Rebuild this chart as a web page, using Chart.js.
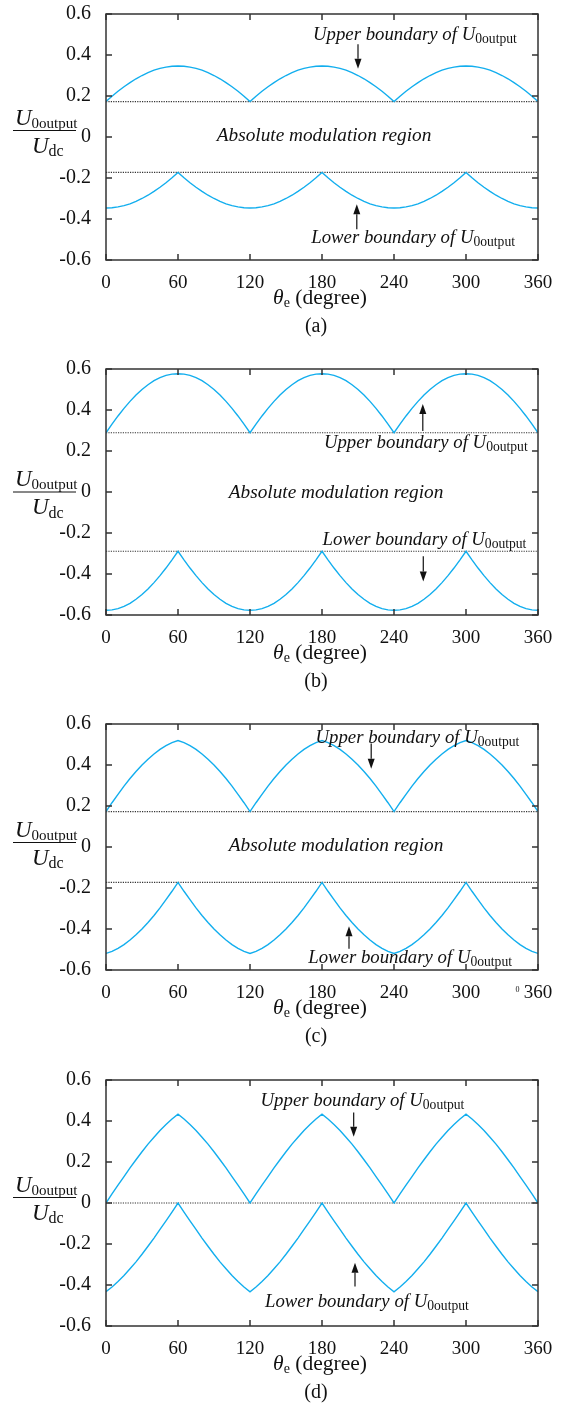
<!DOCTYPE html>
<html>
<head>
<meta charset="utf-8">
<script src="https://cdn.jsdelivr.net/npm/chart.js@4.4.1/dist/chart.umd.min.js"></script>
<style>
  html, body { margin: 0; padding: 0; background: #fff; }
  body { width: 565px; height: 1403px; position: relative; overflow: hidden; }
  canvas { position: absolute; left: 0; }
</style>
</head>
<body>
<canvas id="panel-a" width="565" height="345" style="top:-5px"></canvas>
<canvas id="panel-b" width="565" height="345" style="top:350px"></canvas>
<canvas id="panel-c" width="565" height="345" style="top:705px"></canvas>
<canvas id="panel-d" width="565" height="345" style="top:1061px"></canvas>
<script>
// electrical angle, degrees
var thetaDeg = [0, 5, 10, 15, 20, 25, 30, 35, 40, 45, 50, 55, 60, 65, 70, 75, 80, 85, 90, 95, 100, 105, 110, 115, 120,
  125, 130, 135, 140, 145, 150, 155, 160, 165, 170, 175, 180, 185, 190, 195, 200, 205, 210, 215, 220, 225, 230, 235, 240,
  245, 250, 255, 260, 265, 270, 275, 280, 285, 290, 295, 300, 305, 310, 315, 320, 325, 330, 335, 340, 345, 350, 355, 360];

// U0output / Udc limits, one pair per case (one line per 120 degrees)
var upperA = [0.173, 0.199, 0.223, 0.245, 0.265, 0.284, 0.300, 0.314, 0.326, 0.335, 0.341, 0.345, 0.346, 0.345, 0.341, 0.335, 0.326, 0.314, 0.300, 0.284, 0.265, 0.245, 0.223, 0.199, 0.173,
  0.199, 0.223, 0.245, 0.265, 0.284, 0.300, 0.314, 0.326, 0.335, 0.341, 0.345, 0.346, 0.345, 0.341, 0.335, 0.326, 0.314, 0.300, 0.284, 0.265, 0.245, 0.223, 0.199, 0.173,
  0.199, 0.223, 0.245, 0.265, 0.284, 0.300, 0.314, 0.326, 0.335, 0.341, 0.345, 0.346, 0.345, 0.341, 0.335, 0.326, 0.314, 0.300, 0.284, 0.265, 0.245, 0.223, 0.199, 0.173];
var lowerA = [-0.346, -0.345, -0.341, -0.335, -0.326, -0.314, -0.300, -0.284, -0.265, -0.245, -0.223, -0.199, -0.173, -0.199, -0.223, -0.245, -0.265, -0.284, -0.300, -0.314, -0.326, -0.335, -0.341, -0.345, -0.346,
  -0.345, -0.341, -0.335, -0.326, -0.314, -0.300, -0.284, -0.265, -0.245, -0.223, -0.199, -0.173, -0.199, -0.223, -0.245, -0.265, -0.284, -0.300, -0.314, -0.326, -0.335, -0.341, -0.345, -0.346,
  -0.345, -0.341, -0.335, -0.326, -0.314, -0.300, -0.284, -0.265, -0.245, -0.223, -0.199, -0.173, -0.199, -0.223, -0.245, -0.265, -0.284, -0.300, -0.314, -0.326, -0.335, -0.341, -0.345, -0.346];

var upperB = [0.289, 0.331, 0.371, 0.408, 0.442, 0.473, 0.500, 0.523, 0.543, 0.558, 0.569, 0.575, 0.577, 0.575, 0.569, 0.558, 0.543, 0.523, 0.500, 0.473, 0.442, 0.408, 0.371, 0.331, 0.289,
  0.331, 0.371, 0.408, 0.442, 0.473, 0.500, 0.523, 0.543, 0.558, 0.569, 0.575, 0.577, 0.575, 0.569, 0.558, 0.543, 0.523, 0.500, 0.473, 0.442, 0.408, 0.371, 0.331, 0.289,
  0.331, 0.371, 0.408, 0.442, 0.473, 0.500, 0.523, 0.543, 0.558, 0.569, 0.575, 0.577, 0.575, 0.569, 0.558, 0.543, 0.523, 0.500, 0.473, 0.442, 0.408, 0.371, 0.331, 0.289];
var lowerB = [-0.577, -0.575, -0.569, -0.558, -0.543, -0.523, -0.500, -0.473, -0.442, -0.408, -0.371, -0.331, -0.289, -0.331, -0.371, -0.408, -0.442, -0.473, -0.500, -0.523, -0.543, -0.558, -0.569, -0.575, -0.577,
  -0.575, -0.569, -0.558, -0.543, -0.523, -0.500, -0.473, -0.442, -0.408, -0.371, -0.331, -0.289, -0.331, -0.371, -0.408, -0.442, -0.473, -0.500, -0.523, -0.543, -0.558, -0.569, -0.575, -0.577,
  -0.575, -0.569, -0.558, -0.543, -0.523, -0.500, -0.473, -0.442, -0.408, -0.371, -0.331, -0.289, -0.331, -0.371, -0.408, -0.442, -0.473, -0.500, -0.523, -0.543, -0.558, -0.569, -0.575, -0.577];

var upperC = [0.173, 0.216, 0.257, 0.297, 0.334, 0.368, 0.400, 0.428, 0.454, 0.476, 0.494, 0.509, 0.519, 0.509, 0.494, 0.476, 0.454, 0.428, 0.400, 0.368, 0.334, 0.297, 0.257, 0.216, 0.173,
  0.216, 0.257, 0.297, 0.334, 0.368, 0.400, 0.428, 0.454, 0.476, 0.494, 0.509, 0.519, 0.509, 0.494, 0.476, 0.454, 0.428, 0.400, 0.368, 0.334, 0.297, 0.257, 0.216, 0.173,
  0.216, 0.257, 0.297, 0.334, 0.368, 0.400, 0.428, 0.454, 0.476, 0.494, 0.509, 0.519, 0.509, 0.494, 0.476, 0.454, 0.428, 0.400, 0.368, 0.334, 0.297, 0.257, 0.216, 0.173];
var lowerC = [-0.519, -0.509, -0.494, -0.476, -0.454, -0.428, -0.400, -0.368, -0.334, -0.297, -0.257, -0.216, -0.173, -0.216, -0.257, -0.297, -0.334, -0.368, -0.400, -0.428, -0.454, -0.476, -0.494, -0.509, -0.519,
  -0.509, -0.494, -0.476, -0.454, -0.428, -0.400, -0.368, -0.334, -0.297, -0.257, -0.216, -0.173, -0.216, -0.257, -0.297, -0.334, -0.368, -0.400, -0.428, -0.454, -0.476, -0.494, -0.509, -0.519,
  -0.509, -0.494, -0.476, -0.454, -0.428, -0.400, -0.368, -0.334, -0.297, -0.257, -0.216, -0.173, -0.216, -0.257, -0.297, -0.334, -0.368, -0.400, -0.428, -0.454, -0.476, -0.494, -0.509, -0.519];

var upperD = [0, 0.044, 0.087, 0.129, 0.171, 0.211, 0.250, 0.287, 0.321, 0.354, 0.383, 0.410, 0.433, 0.410, 0.383, 0.354, 0.321, 0.287, 0.250, 0.211, 0.171, 0.129, 0.087, 0.044, 0,
  0.044, 0.087, 0.129, 0.171, 0.211, 0.250, 0.287, 0.321, 0.354, 0.383, 0.410, 0.433, 0.410, 0.383, 0.354, 0.321, 0.287, 0.250, 0.211, 0.171, 0.129, 0.087, 0.044, 0,
  0.044, 0.087, 0.129, 0.171, 0.211, 0.250, 0.287, 0.321, 0.354, 0.383, 0.410, 0.433, 0.410, 0.383, 0.354, 0.321, 0.287, 0.250, 0.211, 0.171, 0.129, 0.087, 0.044, 0];
var lowerD = [-0.433, -0.410, -0.383, -0.354, -0.321, -0.287, -0.250, -0.211, -0.171, -0.129, -0.087, -0.044, 0, -0.044, -0.087, -0.129, -0.171, -0.211, -0.250, -0.287, -0.321, -0.354, -0.383, -0.410, -0.433,
  -0.410, -0.383, -0.354, -0.321, -0.287, -0.250, -0.211, -0.171, -0.129, -0.087, -0.044, 0, -0.044, -0.087, -0.129, -0.171, -0.211, -0.250, -0.287, -0.321, -0.354, -0.383, -0.410, -0.433,
  -0.410, -0.383, -0.354, -0.321, -0.287, -0.250, -0.211, -0.171, -0.129, -0.087, -0.044, 0, -0.044, -0.087, -0.129, -0.171, -0.211, -0.250, -0.287, -0.321, -0.354, -0.383, -0.410, -0.433];

// dotted limits of the absolute modulation region
var boundA = [0.173, -0.173];
var boundB = [0.289, -0.289];
var boundC = [0.173, -0.173];
var boundD = [0];

var xTickValues = [0, 60, 120, 180, 240, 300, 360];
var xTickLabels = ['0', '60', '120', '180', '240', '300', '360'];
var yTickValues = [-0.6, -0.4, -0.2, 0, 0.2, 0.4, 0.6];
var yTickLabels = ['-0.6', '-0.4', '-0.2', '0', '0.2', '0.4', '0.6'];

var SERIF = "'Liberation Serif', 'Times New Roman', serif";
var CURVE = 'rgb(18,174,238)';
var INK = '#111';

function pairs(ys) {
  return thetaDeg.map(function(t, i) { return { x: t, y: ys[i] }; });
}

// text with an upright subscript; returns the total width
function subText(ctx, x, y, main, sub, size, subSize, italic) {
  ctx.font = (italic ? 'italic ' : '') + size + 'px ' + SERIF;
  ctx.fillText(main, x, y);
  var w = ctx.measureText(main).width;
  ctx.font = subSize + 'px ' + SERIF;
  ctx.fillText(sub, x + w, y + subSize * 0.22);
  return w + ctx.measureText(sub).width;
}

function arrow(ctx, x, yFrom, yTo) {
  var dir = yTo > yFrom ? 1 : -1;
  var head = 10, half = 3.5;
  ctx.beginPath();
  ctx.moveTo(x, yFrom);
  ctx.lineTo(x, yTo - dir * head);
  ctx.stroke();
  ctx.beginPath();
  ctx.moveTo(x, yTo);
  ctx.lineTo(x - half, yTo - dir * head);
  ctx.lineTo(x + half, yTo - dir * head);
  ctx.closePath();
  ctx.fill();
}

var panelDecor = {
  id: 'panelDecor',
  afterDraw: function(chart, args, opts) {
    var ctx = chart.ctx;
    var area = chart.chartArea;
    var xs = chart.scales.x, ys = chart.scales.y;
    ctx.save();

    // box with inward ticks on all four sides
    ctx.strokeStyle = '#333';
    ctx.lineWidth = 1.5;
    ctx.strokeRect(area.left, area.top, area.right - area.left, area.bottom - area.top);
    ctx.beginPath();
    xTickValues.forEach(function(v) {
      var px = xs.getPixelForValue(v);
      ctx.moveTo(px, area.bottom); ctx.lineTo(px, area.bottom - 6);
      ctx.moveTo(px, area.top); ctx.lineTo(px, area.top + 6);
    });
    yTickValues.forEach(function(v) {
      var py = ys.getPixelForValue(v);
      ctx.moveTo(area.left, py); ctx.lineTo(area.left + 6, py);
      ctx.moveTo(area.right, py); ctx.lineTo(area.right - 6, py);
    });
    ctx.stroke();

    ctx.fillStyle = INK;
    ctx.strokeStyle = INK;
    ctx.lineWidth = 1.2;
    ctx.textBaseline = 'alphabetic';

    // annotations, anchored in data units
    opts.notes.forEach(function(n) {
      var px = xs.getPixelForValue(n.x), py = ys.getPixelForValue(n.y);
      if (n.center) {
        ctx.font = 'italic 19.3px ' + SERIF;
        ctx.textAlign = 'center';
        ctx.fillText(n.text, px, py);
        ctx.textAlign = 'left';
      } else {
        ctx.textAlign = 'left';
        subText(ctx, px, py, n.text, '0output', 18.8, 13.6, true);
      }
    });
    opts.arrows.forEach(function(a) {
      arrow(ctx, xs.getPixelForValue(a.x), ys.getPixelForValue(a.from), ys.getPixelForValue(a.to));
    });

    // y label as a fraction
    var y0 = ys.getPixelForValue(0) + opts.fracShift;
    ctx.lineWidth = 1;
    ctx.beginPath();
    ctx.moveTo(13, y0);
    ctx.lineTo(76, y0);
    ctx.stroke();
    ctx.textAlign = 'left';
    subText(ctx, 15, y0 - 6, 'U', '0output', 23, 15, true);
    subText(ctx, 32, y0 + 22, 'U', 'dc', 23, 16, true);

    // x title
    var cx = (area.left + area.right) / 2 - 2;
    ctx.font = 'italic 21.5px ' + SERIF;
    var w1 = ctx.measureText('\u03b8').width;
    ctx.font = '14px ' + SERIF;
    var w2 = ctx.measureText('e').width;
    ctx.font = '21.5px ' + SERIF;
    var w3 = ctx.measureText(' (degree)').width;
    var tx = cx - (w1 + w2 + w3) / 2;
    var ty = area.bottom + 44;
    ctx.font = 'italic 21.5px ' + SERIF;
    ctx.fillText('\u03b8', tx, ty);
    ctx.font = '14px ' + SERIF;
    ctx.fillText('e', tx + w1, ty + 3);
    ctx.font = '21.5px ' + SERIF;
    ctx.fillText(' (degree)', tx + w1 + w2, ty);

    // panel caption
    ctx.textAlign = 'center';
    ctx.font = '20px ' + SERIF;
    ctx.fillText(opts.caption, cx - 4, area.bottom + 72);

    if (opts.stray) {
      ctx.font = '8px ' + SERIF;
      ctx.fillText(opts.stray, xs.getPixelForValue(343), area.bottom + 22);
    }
    ctx.restore();
  }
};

function makePanel(id, upper, lower, bounds, decor) {
  var datasets = [
    { data: pairs(upper), borderColor: CURVE, borderWidth: 1.4, pointRadius: 0, tension: 0 },
    { data: pairs(lower), borderColor: CURVE, borderWidth: 1.4, pointRadius: 0, tension: 0 }
  ];
  bounds.forEach(function(b) {
    datasets.push({
      data: [{ x: 0, y: b }, { x: 360, y: b }],
      borderColor: '#333', borderWidth: 1.2, borderDash: [1.2, 1.2], pointRadius: 0
    });
  });

  return new Chart(document.getElementById(id).getContext('2d'), {
    type: 'line',
    data: { datasets: datasets },
    plugins: [panelDecor],
    options: {
      responsive: false,
      devicePixelRatio: 1,
      animation: false,
      layout: { padding: { top: 12, right: 27, left: 0, bottom: 0 } },
      plugins: { legend: { display: false }, tooltip: { enabled: false }, panelDecor: decor },
      scales: {
        x: {
          type: 'linear', min: 0, max: 360,
          grid: { display: false }, border: { display: false },
          afterBuildTicks: function(s) { s.ticks = xTickValues.map(function(v) { return { value: v }; }); },
          afterFit: function(s) { s.height = 80; },
          ticks: {
            padding: 4, maxRotation: 0, autoSkip: false, color: INK,
            font: { family: SERIF, size: 19 },
            callback: function(v, i) { return xTickLabels[i]; }
          }
        },
        y: {
          min: -0.6, max: 0.6,
          grid: { display: false }, border: { display: false },
          afterBuildTicks: function(s) { s.ticks = yTickValues.map(function(v) { return { value: v }; }); },
          afterFit: function(s) { s.width = 106; },
          ticks: {
            padding: 7, autoSkip: false, color: INK,
            font: { family: SERIF, size: 20 },
            callback: function(v, i) { return yTickLabels[i]; }
          }
        }
      }
    }
  });
}

var UPPER = 'Upper boundary of U';
var LOWER = 'Lower boundary of U';
var REGION = 'Absolute modulation region';

makePanel('panel-a', upperA, lowerA, boundA, {
  caption: '(a)', fracShift: -6.5,
  notes: [
    { text: UPPER, x: 172.5, y: 0.475 },
    { text: REGION, x: 181.7, y: -0.018, center: true },
    { text: LOWER, x: 171, y: -0.516 }
  ],
  arrows: [{ x: 210, from: 0.452, to: 0.333 }, { x: 209, from: -0.45, to: -0.328 }]
});

makePanel('panel-b', upperB, lowerB, boundB, {
  caption: '(b)', fracShift: 0,
  notes: [
    { text: UPPER, x: 181.6, y: 0.216 },
    { text: REGION, x: 191.7, y: -0.03, center: true },
    { text: LOWER, x: 180.5, y: -0.259 }
  ],
  arrows: [{ x: 264, from: 0.297, to: 0.429 }, { x: 264.4, from: -0.314, to: -0.436 }]
});

makePanel('panel-c', upperC, lowerC, boundC, {
  caption: '(c)', fracShift: -4.5, stray: '0',
  notes: [
    { text: UPPER, x: 174.6, y: 0.508 },
    { text: REGION, x: 191.7, y: -0.021, center: true },
    { text: LOWER, x: 168.5, y: -0.567 }
  ],
  arrows: [{ x: 221, from: 0.505, to: 0.382 }, { x: 202.5, from: -0.496, to: -0.387 }]
});

makePanel('panel-d', upperD, lowerD, boundD, {
  caption: '(d)', fracShift: -5.5,
  notes: [
    { text: UPPER, x: 128.8, y: 0.473 },
    { text: LOWER, x: 132.5, y: -0.509 }
  ],
  arrows: [{ x: 206.4, from: 0.441, to: 0.323 }, { x: 207.5, from: -0.407, to: -0.292 }]
});
</script>
</body>
</html>
